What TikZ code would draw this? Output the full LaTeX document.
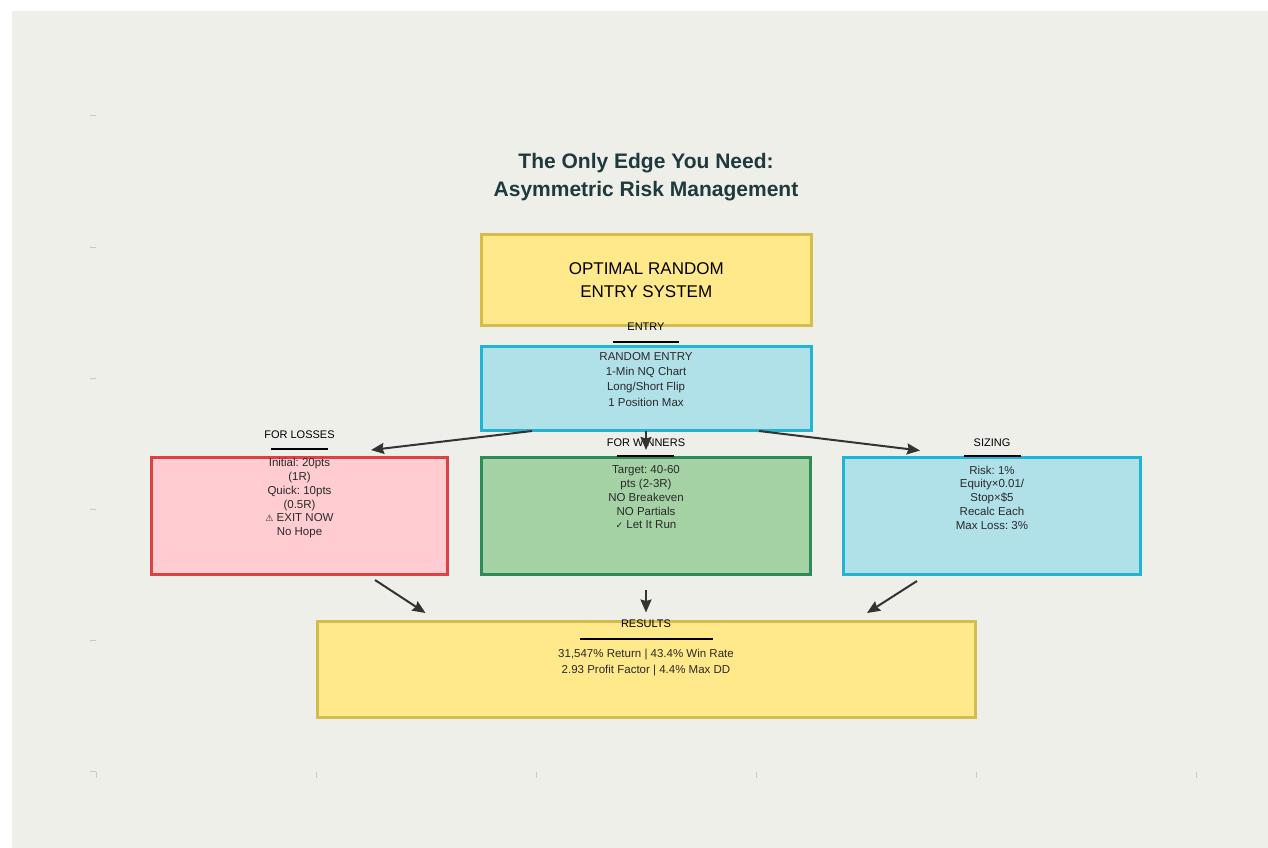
\documentclass[tikz,border=0pt]{standalone}
\usepackage{fontspec}
\setmainfont{Liberation Sans}
\newfontfamily\symbolfont{DejaVu Sans}
\usetikzlibrary{arrows.meta,positioning}
\definecolor{paper}{HTML}{EFEFEA}
\definecolor{titleink}{HTML}{1F3A3D}
\definecolor{goldfill}{HTML}{FFE98A}
\definecolor{golddraw}{HTML}{D6BC4A}
\definecolor{cyanfill}{HTML}{B0E0E8}
\definecolor{cyandraw}{HTML}{22B5D3}
\definecolor{rosefill}{HTML}{FFCCD2}
\definecolor{rosedraw}{HTML}{DC4242}
\definecolor{mintfill}{HTML}{A5D2A4}
\definecolor{mintdraw}{HTML}{2E8B57}
\definecolor{ink}{HTML}{2A2A2A}
\definecolor{arrowink}{HTML}{333333}
\definecolor{tickink}{HTML}{C9C9C2}
\frenchspacing

\begin{document}
\begin{tikzpicture}[x=1pt, y=-1pt,
    panel/.style={draw, line width=3pt, inner sep=0pt},
    goldpanel/.style={panel, fill=goldfill, draw=golddraw},
    cyanpanel/.style={panel, fill=cyanfill, draw=cyandraw},
    rosepanel/.style={panel, fill=rosefill, draw=rosedraw},
    mintpanel/.style={panel, fill=mintfill, draw=mintdraw},
    body/.style={anchor=north, align=center, inner sep=0pt, text=ink, font=\fontsize{11.5}{13.7}\selectfont},
    tag/.style={inner sep=0pt, text=black, font=\fontsize{11}{12}\selectfont},
    rule/.style={line width=2pt},
    tick/.style={draw=tickink, line width=0.8pt},
    flow/.style={draw=arrowink, line width=2pt, -{Stealth[length=13pt,width=11pt,inset=1.5pt]}}]

    % Page and plot area
    \useasboundingbox (0,0) rectangle (1268,848);
    \fill[white] (0,0) rectangle (1268,848);
    \fill[paper] (12,11) rectangle (1268,848);

    % Faint axis ticks
    \foreach \y in {115.5,247,378,509,640.5,771.5} {
        \draw[tick] (90,\y) -- (96,\y);
    }
    \foreach \x in {96,316,536,756,976,1196} {
        \draw[tick] (\x,772) -- (\x,778);
    }

    % Title
    \node[align=center, text=titleink, font=\fontsize{21}{28}\selectfont\bfseries] (title) at (646,177.5)
        {The Only Edge You Need:\\Asymmetric Risk Management};

    % Boxes
    \node[goldpanel, minimum width=329.5, minimum height=91] (system) at (646.25,280) {};
    \node[cyanpanel, minimum width=329.5, minimum height=83.5] (entry) at (646.25,388.25) {};
    \node[rosepanel, minimum width=296, minimum height=117] (losses) at (299.5,516) {};
    \node[mintpanel, minimum width=329.5, minimum height=117] (winners) at (645.75,516) {};
    \node[cyanpanel, minimum width=297, minimum height=117] (sizing) at (992,516) {};
    \node[goldpanel, minimum width=658, minimum height=96] (results) at (646,669.5) {};

    % Box texts
    \node[align=center, inner sep=0pt, font=\fontsize{17}{22.5}\selectfont] (systemtxt) at (system)
        {OPTIMAL RANDOM\\ENTRY SYSTEM};
    \node[body, font=\fontsize{11.5}{15.2}\selectfont] (entrytxt) at (646,352.3)
        {RANDOM ENTRY\\1-Min NQ Chart\\Long/Short Flip\\1 Position Max};
    \node[body] (lossestxt) at (299.5,458.4)
        {Initial: 20pts\\(1R)\\Quick: 10pts\\(0.5R)\\{\symbolfont\fontsize{9}{10}\selectfont ⚠} EXIT NOW\\No Hope};
    \node[body] (winnerstxt) at (646,465.7)
        {Target: 40-60\\pts (2-3R)\\NO Breakeven\\NO Partials\\{\symbolfont\fontsize{9}{10}\selectfont ✓} Let It Run};
    \node[body] (sizingtxt) at (992,465.7)
        {Risk: 1\%\\Equity×0.01/\\Stop×\$5\\Recalc Each\\Max Loss: 3\%};
    \node[body, font=\fontsize{11.5}{15.7}\selectfont] (resultstxt) at (646,649)
        {31,547\% Return | 43.4\% Win Rate\\2.93 Profit Factor | 4.4\% Max DD};

    % Section tags and their rules
    \node[tag] (entrytag) at (646,326.5) {ENTRY};
    \node[tag] (lossestag) at (299.5,435) {FOR LOSSES};
    \node[tag] (winnerstag) at (646,442.3) {FOR WINNERS};
    \node[tag] (sizingtag) at (992,442.3) {SIZING};
    \node[tag] (resultstag) at (646,623.3) {RESULTS};
    \foreach \x/\y/\w in {646/341.5/33, 299.5/449/28.5, 645.5/455.8/28.5, 992/455.8/28.5, 646/639/66.5} {
        \draw[rule] (\x-\w,\y) -- (\x+\w,\y);
    }

    % Arrow ends
    \coordinate (entryL) at (532,431);
    \coordinate (entryM) at (646,431);
    \coordinate (entryR) at (759,431);
    \coordinate (tipL) at (371,450);
    \coordinate (tipM) at (646,450);
    \coordinate (tipR) at (920,450.5);
    \coordinate (lossOut) at (375,580);
    \coordinate (winOut) at (646,590);
    \coordinate (sizeOut) at (917,581);
    \coordinate (resL) at (425.5,613);
    \coordinate (resM) at (646,612.5);
    \coordinate (resR) at (867,613);

    % Arrows
    \draw[flow] (entryL) -- (tipL);
    \draw[flow] (entryM) -- (tipM);
    \draw[flow] (entryR) -- (tipR);
    \draw[flow] (lossOut) -- (resL);
    \draw[flow] (winOut) -- (resM);
    \draw[flow] (sizeOut) -- (resR);
\end{tikzpicture}
\end{document}
